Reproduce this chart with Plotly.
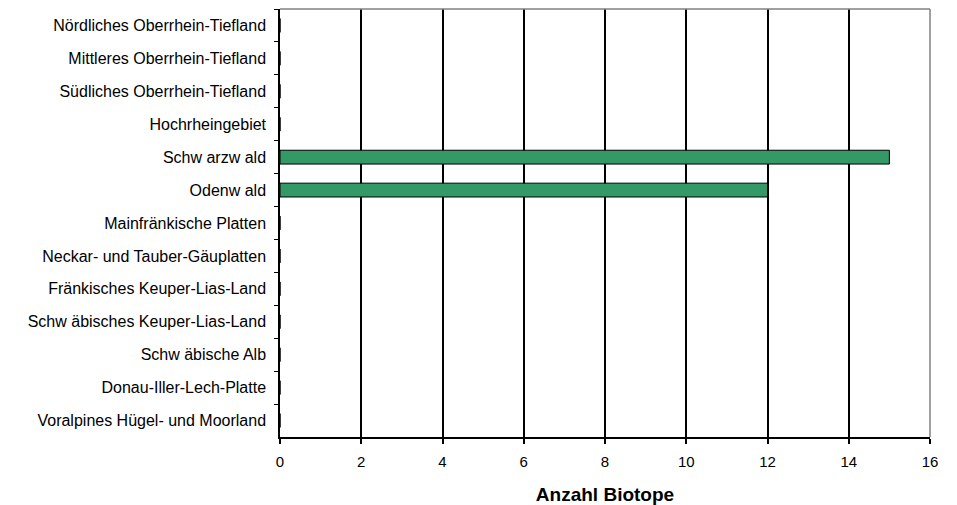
import plotly.graph_objects as go

categories = [
    "Nördliches Oberrhein-Tiefland",
    "Mittleres Oberrhein-Tiefland",
    "Südliches Oberrhein-Tiefland",
    "Hochrheingebiet",
    "Schw arzw ald",
    "Odenw ald",
    "Mainfränkische Platten",
    "Neckar- und Tauber-Gäuplatten",
    "Fränkisches Keuper-Lias-Land",
    "Schw äbisches Keuper-Lias-Land",
    "Schw äbische Alb",
    "Donau-Iller-Lech-Platte",
    "Voralpines Hügel- und Moorland",
]
values = [0, 0, 0, 0, 15, 12, 0, 0, 0, 0, 0, 0, 0]
x_ticks = [0, 2, 4, 6, 8, 10, 12, 14, 16]
x_title = "Anzahl Biotope"

FONT = "Liberation Sans, Arial, sans-serif"

fig = go.Figure(
    go.Bar(
        y=categories,
        x=values,
        orientation="h",
        marker=dict(color="#339966", line=dict(color="black", width=1)),
        hoverinfo="x+y",
    )
)

# page body has an 8px margin, so the figure is sized/offset to compensate
fig.update_layout(
    width=949,
    height=497,
    margin=dict(l=272, r=27, t=1, b=68),
    paper_bgcolor="white",
    plot_bgcolor="white",
    bargap=0.58,
    showlegend=False,
    font=dict(family=FONT, size=15, color="black"),
    shapes=[
        dict(type="line", xref="paper", yref="paper", x0=0, x1=1, y0=1, y1=1,
             line=dict(color="#808080", width=1.5), layer="above"),
        dict(type="line", xref="paper", yref="paper", x0=1, x1=1, y0=0, y1=1,
             line=dict(color="#808080", width=1.5), layer="above"),
    ],
)

fig.update_xaxes(
    range=[0, 16],
    tickvals=x_ticks,
    showgrid=True,
    gridcolor="black",
    gridwidth=1.5,
    zeroline=False,
    showline=True,
    linecolor="black",
    linewidth=1.5,
    ticks="outside",
    ticklen=5,
    tickwidth=1.5,
    tickcolor="black",
    ticklabelstandoff=5,
    tickfont=dict(family=FONT, size=15, color="black"),
    title=dict(text="<b>" + x_title + "</b>", font=dict(family=FONT, size=19, color="black"), standoff=19),
)

fig.update_yaxes(
    type="category",
    autorange="reversed",
    showgrid=False,
    zeroline=False,
    showline=True,
    linecolor="black",
    linewidth=1.5,
    ticks="outside",
    tickson="boundaries",
    ticklen=4,
    tickwidth=1,
    tickcolor="black",
    ticklabelstandoff=9,
    tickfont=dict(family=FONT, size=16, color="black"),
)

fig.write_html("out.html")
